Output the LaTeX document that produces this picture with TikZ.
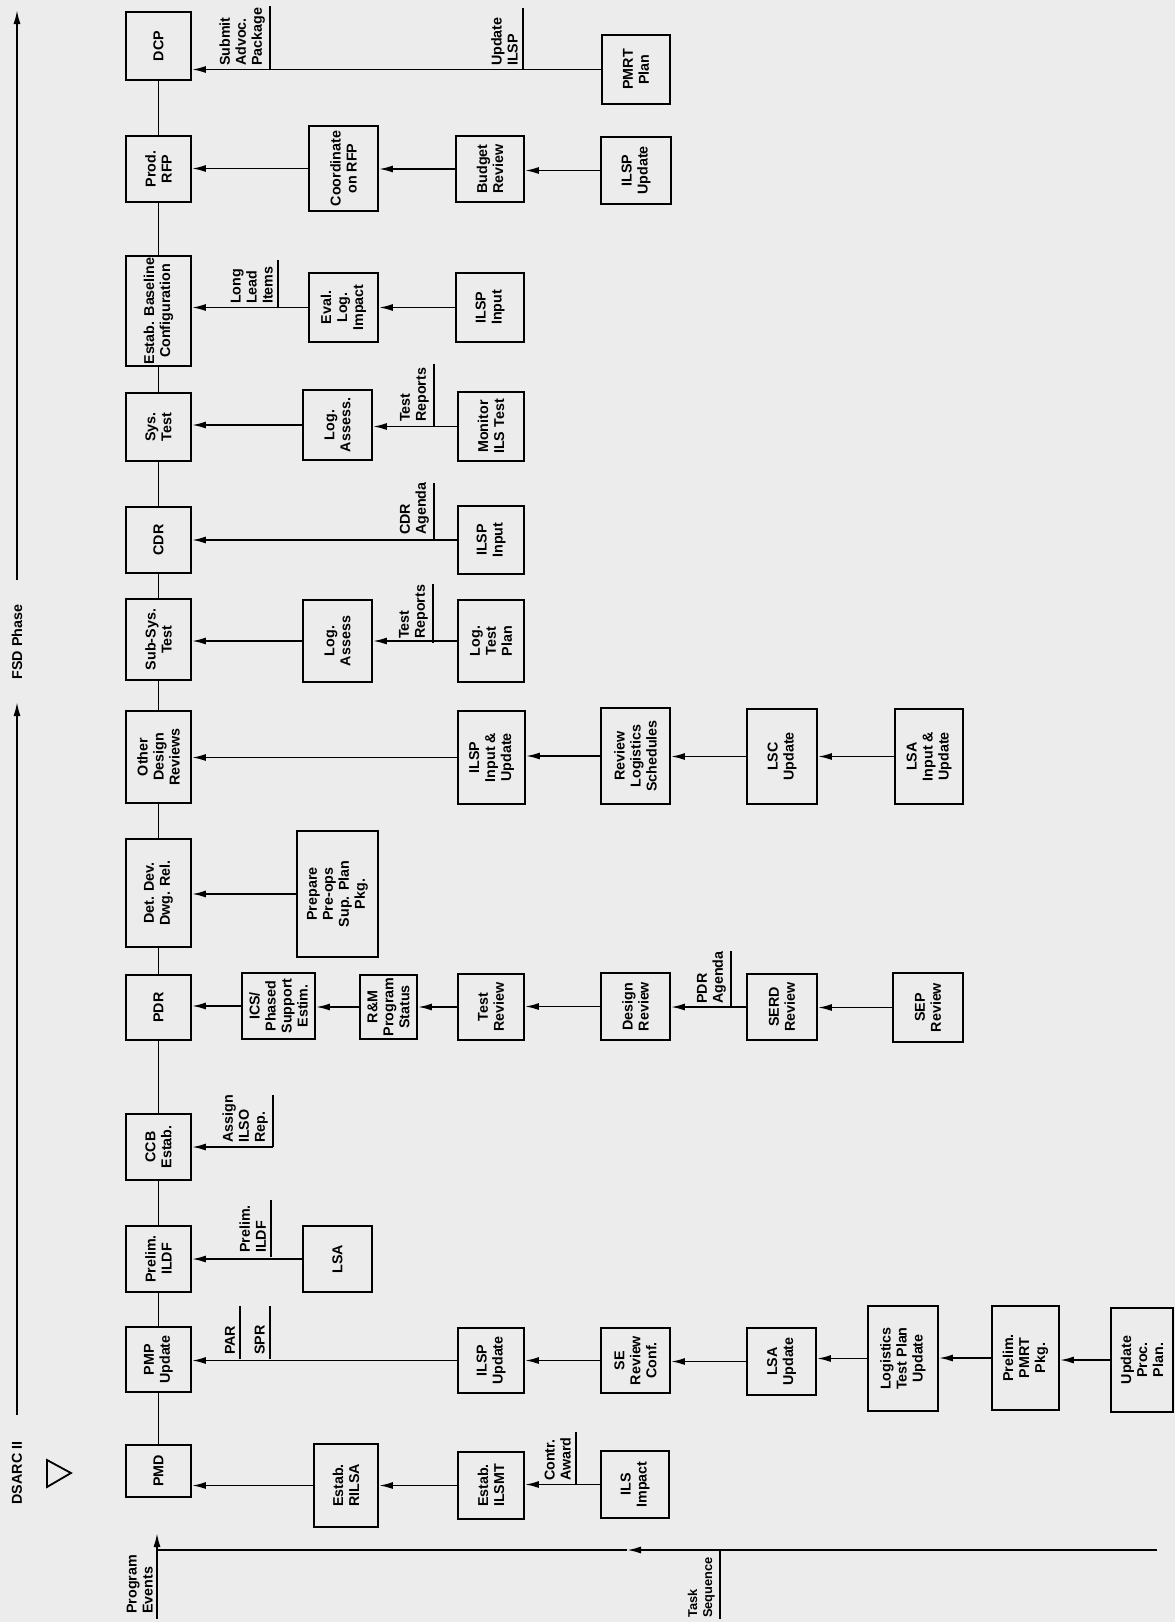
\documentclass[tikz,border=0pt]{standalone}
\usepackage{fontspec}
\setmainfont{Liberation Sans}
\usetikzlibrary{arrows.meta}
\definecolor{bgc}{RGB}{236,236,236}
\newcommand\mkbox[6]{\node[box, minimum width={#5-#3}, minimum height={#4-#2}] (#1) at ({(#2+#4)/2},{(#3+#5)/2}) {#6};}
\newcommand\mklab[5]{%
  \coordinate (#1) at (#2,#3);
  \draw[ln] (#1) -- (#2,#4);
  \node[lab] (#1txt) at ([xshift=-5pt,yshift=4pt]#1) {#5};}
\begin{document}
\begin{tikzpicture}[x=1pt,y=-1pt,
  txt/.style={font=\fontsize{14.3}{16}\selectfont\bfseries},
  box/.style={txt, draw, line width=1.8pt, rotate=90, align=center, inner sep=1pt},
  lab/.style={txt, rotate=90, align=left, inner sep=0pt, anchor=south west},
  ttl/.style={txt, rotate=90, inner sep=0pt},
  ln/.style={line width=1.8pt},
  arr/.style={line width=1.8pt, -{Latex[length=14pt,width=7pt]}}]
\useasboundingbox (0,0) rectangle (1175,1622);
\fill[bgc] (0,0) rectangle (1175,1622);

% ---- phase axis ----
\node[ttl] (dsarc) at (17,1473) {DSARC II};
\node[ttl] (fsd) at (17,642) {FSD Phase};
\coordinate (ax1) at (17,1415);
\coordinate (ax2) at (17,702);
\coordinate (ax3) at (17,580);
\coordinate (ax4) at (17,10);
\draw[arr] (ax1) -- (ax2);
\draw[arr] (ax3) -- (ax4);
\draw[ln, line join=miter] (47,1460) -- (71,1473) -- (47,1487) -- cycle;

% ---- program events spine ----
\mkbox{dcp}{126}{12}{191}{80}{DCP}
\mkbox{prfp}{126}{136}{191}{202}{Prod.\\RFP}
\mkbox{ebc}{126}{256}{191}{366}{Estab. Baseline\\Configuration}
\mkbox{syst}{126}{393}{191}{461}{Sys.\\Test}
\mkbox{cdr}{126}{507}{191}{573}{CDR}
\mkbox{sst}{126}{599}{191}{680}{Sub-Sys.\\Test}
\mkbox{odr}{126}{711}{191}{803}{Other\\Design\\Reviews}
\mkbox{ddr}{126}{839}{191}{947}{Det. Dev.\\Dwg. Rel.}
\mkbox{pdr}{126}{975}{191}{1040}{PDR}
\mkbox{ccb}{126}{1114}{191}{1180}{CCB\\Estab.}
\mkbox{pild}{126}{1226}{191}{1292}{Prelim.\\ILDF}
\mkbox{pmp}{126}{1327}{191}{1392}{PMP\\Update}
\mkbox{pmd}{126}{1445}{191}{1497}{PMD}

\foreach \a/\b in {dcp/prfp,prfp/ebc,ebc/syst,syst/cdr,cdr/sst,sst/odr,odr/ddr,ddr/pdr,pdr/ccb,ccb/pild,pild/pmp,pmp/pmd}
  \draw[ln] (\a.west) -- (\b.east);

% ---- task boxes ----
\mkbox{pmrt}{602}{35}{670}{104}{PMRT\\Plan}
\mkbox{corfp}{309}{126}{378}{211}{Coordinate\\on RFP}
\mkbox{budg}{456}{136}{524}{202}{Budget\\Review}
\mkbox{ilspua}{601}{137}{671}{204}{ILSP\\Update}
\mkbox{eval}{309}{273}{378}{342}{Eval.\\Log.\\Impact}
\mkbox{ilspia}{456}{273}{524}{342}{ILSP\\Input}
\mkbox{lassa}{303}{390}{372}{460}{Log.\\Assess.}
\mkbox{mon}{458}{392}{524}{461}{Monitor\\ILS Test}
\mkbox{ilspib}{458}{506}{524}{574}{ILSP\\Input}
\mkbox{lassb}{303}{600}{372}{682}{Log.\\Assess}
\mkbox{ltp}{458}{600}{524}{682}{Log.\\Test\\Plan}
\mkbox{ilspiu}{458}{711}{525}{804}{ILSP\\Input \&\\Update}
\mkbox{rls}{601}{708}{670}{804}{Review\\Logistics\\Schedules}
\mkbox{lsc}{747}{709}{817}{804}{LSC\\Update}
\mkbox{lsaiu}{895}{709}{963}{804}{LSA\\Input \&\\Update}
\mkbox{prep}{297}{831}{378}{957}{Prepare\\Pre-ops\\Sup. Plan\\Pkg.}
\mkbox{ics}{242}{973}{315}{1039}{ICS/\\Phased\\Support\\Estim.}
\mkbox{rm}{360}{975}{417}{1039}{R\&M\\Program\\Status}
\mkbox{trev}{458}{974}{524}{1040}{Test\\Review}
\mkbox{drev}{601}{973}{670}{1040}{Design\\Review}
\mkbox{serd}{747}{974}{817}{1040}{SERD\\Review}
\mkbox{sep}{893}{973}{963}{1042}{SEP\\Review}
\mkbox{lsa}{303}{1226}{372}{1292}{LSA}
\mkbox{ilspub}{458}{1328}{524}{1393}{ILSP\\Update}
\mkbox{serc}{601}{1328}{670}{1393}{SE\\Review\\Conf.}
\mkbox{lsau}{747}{1328}{816}{1395}{LSA\\Update}
\mkbox{ltpu}{868}{1306}{938}{1411}{Logistics\\Test Plan\\Update}
\mkbox{ppmrt}{992}{1306}{1059}{1410}{Prelim.\\PMRT\\Pkg.}
\mkbox{upp}{1111}{1308}{1173}{1412}{Update\\Proc.\\Plan.}
\mkbox{rilsa}{314}{1444}{378}{1527}{Estab.\\RILSA}
\mkbox{ilsmt}{458}{1452}{524}{1519}{Estab.\\ILSMT}
\mkbox{ilsi}{601}{1451}{669}{1518}{ILS\\Impact}

% ---- arrows (source -> destination) ----
\foreach \s/\d in {pmrt/dcp, corfp/prfp, budg/corfp, ilspua/budg, eval/ebc, ilspia/eval,
  lassa/syst, mon/lassa, ilspib/cdr, lassb/sst, ltp/lassb, ilspiu/odr, rls/ilspiu, lsc/rls,
  lsaiu/lsc, prep/ddr, ics/pdr, rm/ics, trev/rm, drev/trev, serd/drev, sep/serd, lsa/pild,
  ilspub/pmp, serc/ilspub, lsau/serc, ltpu/lsau, ppmrt/ltpu, upp/ppmrt, rilsa/pmd,
  ilsmt/rilsa, ilsi/ilsmt}
  \draw[arr] (\s.north) -- (\s.north -| \d.south);

% CCB input
\coordinate (ccbt) at (273,1095);
\coordinate (ccbc) at (273,1147);
\draw[ln] (ccbt) -- (ccbc);
\draw[arr] (ccbc) -- (ccbc -| ccb.south);
\node[lab] (ccbtxt) at ([xshift=-5pt,yshift=4pt]ccbc) {Assign\\ILSO\\Rep.};

% ---- flow labels ----
\mklab{la}{270}{70}{6}{Submit\\Advoc.\\Package}
\mklab{lb}{523}{70}{8}{Update\\ILSP}
\mklab{lc}{278}{308}{260}{Long\\Lead\\Items}
\mklab{ld}{434}{426}{364}{Test\\Reports}
\mklab{le}{434}{539}{483}{CDR\\Agenda}
\mklab{lf}{433}{643}{584}{Test\\Reports}
\mklab{lg}{731}{1008}{951}{PDR\\Agenda}
\mklab{lh}{271}{1257}{1200}{Prelim.\\ILDF}
\mklab{li}{240}{1359}{1306}{PAR}
\mklab{lj}{270}{1359}{1306}{SPR}
\mklab{lk}{576}{1485}{1432}{Contr.\\Award}

% ---- program events / task sequence ----
\coordinate (peb) at (157,1619);
\coordinate (pet) at (157,1533);
\draw[arr] (peb) -- (pet);
\node[lab] (petxt) at ([xshift=-4pt,yshift=5pt]peb) {Program\\Events};
\coordinate (tsr) at (1157,1550);
\coordinate (tsm) at (627,1550);
\coordinate (tsl) at (157,1550);
\draw[arr] (tsr) -- (tsm);
\draw[ln] (tsm) -- (tsl);
\coordinate (tst) at (720,1550);
\coordinate (tsb) at (720,1619);
\draw[ln] (tst) -- (tsb);
\node[lab, font=\fontsize{12.8}{15}\selectfont\bfseries] (tstxt) at ([xshift=-5pt,yshift=1pt]tsb) {Task\\Sequence};
\end{tikzpicture}
\end{document}
